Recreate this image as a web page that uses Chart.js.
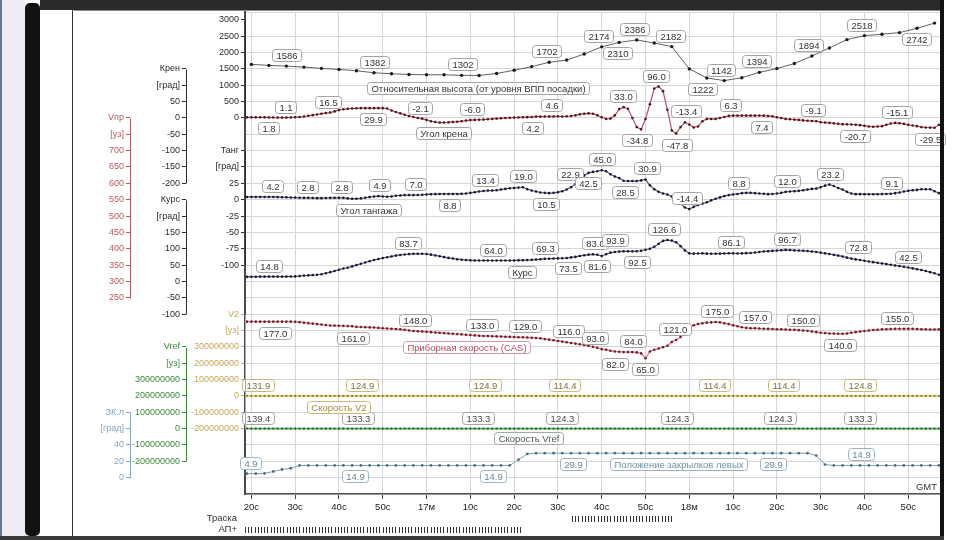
<!DOCTYPE html>
<html lang="ru">
<head>
<meta charset="utf-8">
<title>Параметры полёта</title>
<script src="https://cdn.jsdelivr.net/npm/chart.js@4.4.1/dist/chart.umd.min.js"></script>
<style>
  html, body { margin: 0; padding: 0; background: #fff; }
  body { position: relative; width: 960px; height: 540px; overflow: hidden; }
  #fdr { position: absolute; left: 0; top: 0; }
  .frame { position: absolute; background: #121212; }
</style>
</head>
<body>
<canvas id="fdr" width="960" height="540"></canvas>
<div class="frame" style="left:0;top:0;width:2px;height:540px;background:#6a7890"></div>
<div class="frame" style="left:2px;top:0;width:23px;height:540px;background:#efedf3"></div>
<div class="frame" style="left:25px;top:3px;width:15px;height:533px;border-radius:5px"></div>
<div class="frame" style="left:40px;top:0;width:904px;height:10px;background:#2b2b2b"></div>
<div class="frame" style="left:74px;top:10px;width:866px;height:1px;background:#8a8a8a"></div>
<div class="frame" style="left:72px;top:10px;width:1px;height:530px;background:#333"></div>
<div class="frame" style="left:940px;top:0;width:4px;height:540px"></div>
<div class="frame" style="left:0;top:536px;width:944px;height:4px;background:#3a3a3a"></div>
<script>
// ------------------------- time base (s after 16:20 GMT) -------------------------
const secs = [
  -1, 0, 1, 2, 3, 4, 5, 6, 7, 8, 9, 10, 11, 12, 13, 14, 15, 16, 17, 18,
  19, 20, 21, 22, 23, 24, 25, 26, 27, 28, 29, 30, 31, 32, 33, 34, 35, 36, 37, 38,
  39, 40, 41, 42, 43, 44, 45, 46, 47, 48, 49, 50, 51, 52, 53, 54, 55, 56, 57, 58,
  59, 60, 61, 62, 63, 64, 65, 66, 67, 68, 69, 70, 71, 72, 73, 74, 75, 76, 77, 78,
  79, 80, 81, 82, 83, 84, 85, 86, 87, 88, 89, 90, 91, 92, 93, 94, 95, 96, 97, 98,
  99, 100, 101, 102, 103, 104, 105, 106, 107, 108, 109, 110, 111, 112, 113, 114, 115, 116, 117, 118,
  119, 120, 121, 122, 123, 124, 125, 126, 127, 128, 129, 130, 131, 132, 133, 134, 135, 136, 137, 138,
  139, 140, 141, 142, 143, 144, 145, 146, 147, 148, 149, 150, 151, 152, 153, 154, 155, 156, 157
];
const secs2 = [
  -1, 1, 3, 5, 7, 9, 11, 13, 15, 17, 19, 21, 23, 25, 27, 29, 31, 33, 35, 37,
  39, 41, 43, 45, 47, 49, 51, 53, 55, 57, 59, 61, 63, 65, 67, 69, 71, 73, 75, 77,
  79, 81, 83, 85, 87, 89, 91, 93, 95, 97, 99, 101, 103, 105, 107, 109, 111, 113, 115, 117,
  119, 121, 123, 125, 127, 129, 131, 133, 135, 137, 139, 141, 143, 145, 147, 149, 151, 153, 155, 157
];
const secs4 = [
  0, 4, 8, 12, 16, 20, 24, 28, 32, 36,
  40, 44, 48, 52, 56, 60, 64, 68, 72, 76,
  80, 84, 88, 92, 96, 100, 104, 108, 112, 116,
  120, 124, 128, 132, 136, 140, 144, 148, 152, 156
];

// ------------------------- series -------------------------
const altitude = [
  1638, 1607, 1586, 1555, 1515, 1484, 1443, 1382, 1351, 1329,
  1320, 1320, 1302, 1300, 1360, 1460, 1570, 1702, 1770, 1955,
  2174, 2310, 2386, 2290, 2182, 1500, 1222, 1142, 1230, 1394,
  1510, 1665, 1894, 2140, 2395, 2518, 2560, 2610, 2742, 2900
];
const roll = [
  1.8, 1.8, 1.8, 1.8, 1.8, 1.5, 1.3, 1.1, 1.1, 1.1, 1.5, 2.0, 3.0, 4.5, 6.5, 8.5, 10.5, 13.0, 15.0, 16.5,
  20.0, 24.0, 26.5, 28.0, 29.0, 29.5, 29.9, 30.0, 30.0, 29.9, 30.0, 29.9, 29.0, 23.0, 18.0, 14.0, 10.0, 6.0, 3.0, 0.0,
  -2.1, -6.0, -10.0, -12.5, -14.0, -14.0, -13.5, -12.5, -11.5, -10.0, -8.0, -6.5, -6.0, -5.5, -5.0, -4.0, -3.0, -2.0, -1.0, 0.0,
  0.5, 1.0, 1.5, 2.0, 2.5, 3.0, 4.2, 4.2, 4.4, 4.6, 4.6, 5.0, 4.5, 5.0, 6.0, 8.0, 11.0, 13.0, 14.0, 13.0,
  8.0, 2.0, -3.0, -2.0, 8.0, 27.0, 33.0, 28.0, 0.0, -28.0, -34.8, -3.0, 42.0, 90.0, 96.0, 82.0, 25.0, -38.0, -47.8, -28.0,
  -13.4, -20.0, -29.0, -26.0, -10.0, -3.0, -3.0, -3.0, 0.0, 3.0, 6.3, 7.0, 7.0, 7.0, 7.0, 7.0, 7.0, 7.4, 7.0, 6.0,
  5.0, 2.0, 0.0, -3.0, -4.0, -5.0, -6.0, -7.5, -8.5, -9.1, -10.0, -13.0, -14.0, -15.0, -16.5, -18.0, -19.0, -19.5, -20.0, -20.7,
  -22.0, -24.0, -26.0, -27.0, -26.0, -25.0, -21.0, -17.0, -15.1, -16.0, -18.0, -21.0, -23.0, -25.0, -28.0, -29.0, -29.5, -30.0, -21.0
];
const pitch = [
  4.2, 4.2, 4.2, 4.2, 4.2, 4.2, 4.2, 4.0, 3.8, 3.6, 3.4, 3.2, 3.0, 2.8, 2.8, 2.6, 2.4, 2.4, 2.6, 2.8,
  2.8, 2.8, 2.8, 2.0, 1.5, 1.5, 2.0, 3.0, 4.0, 4.9, 5.5, 5.0, 4.5, 5.0, 6.0, 6.5, 7.0, 7.0, 7.0, 7.2,
  7.5, 8.0, 8.4, 8.6, 8.8, 8.8, 8.8, 8.8, 8.8, 9.0, 9.5, 10.5, 11.5, 12.5, 13.4, 14.0, 14.0, 14.5, 15.5, 16.5,
  17.5, 18.0, 18.5, 19.0, 16.0, 14.0, 12.5, 11.0, 10.5, 10.0, 10.5, 11.5, 13.0, 15.5, 19.0, 24.0, 30.0, 37.0, 41.0, 42.5,
  43.5, 45.0, 43.5, 39.0, 35.5, 33.0, 29.0, 28.5, 28.5, 28.5, 29.5, 30.9, 22.0, 16.0, 12.0, 9.5, 8.0, 5.0, 1.5, -6.0,
  -12.0, -14.4, -11.0, -8.0, -6.0, -4.0, -1.0, 1.5, 3.5, 5.5, 7.0, 8.0, 8.8, 10.0, 10.5, 10.5, 10.0, 9.5, 9.0, 8.5,
  8.8, 9.5, 10.5, 12.0, 12.5, 13.0, 13.5, 14.5, 15.5, 16.5, 17.0, 19.0, 21.5, 23.2, 21.0, 18.0, 15.5, 12.0, 9.5, 8.5,
  8.5, 8.4, 8.4, 8.4, 8.4, 8.6, 8.8, 9.1, 10.0, 11.0, 12.5, 13.5, 14.5, 15.0, 16.0, 16.0, 16.0, 13.0, 10.0
];
const heading = [
  14.0, 14.2, 14.5, 14.8, 14.8, 14.8, 14.8, 14.8, 14.8, 14.8, 15.0, 15.5, 16.5, 18.0, 18.5, 19.5, 20.5, 22.0, 25.0, 28.5,
  32.0, 36.0, 39.5, 42.0, 46.0, 50.0, 54.0, 58.0, 62.0, 65.5, 68.5, 71.5, 74.0, 76.5, 79.0, 81.0, 82.5, 83.7, 84.5, 84.7,
  84.5, 84.0, 82.0, 79.5, 77.0, 74.5, 72.0, 70.0, 68.0, 66.5, 65.5, 64.5, 64.2, 64.0, 64.0, 64.0, 64.0, 64.0, 64.0, 64.0,
  64.0, 64.2, 64.5, 65.0, 65.5, 66.0, 67.0, 68.0, 69.3, 69.5, 70.0, 70.5, 71.0, 71.5, 73.5, 75.0, 78.0, 80.0, 82.0, 83.0,
  81.6, 78.0, 83.0, 88.0, 90.0, 91.5, 92.0, 92.0, 92.0, 92.5, 93.9, 97.0, 100.0, 106.0, 115.0, 124.0, 126.6, 125.0, 120.0, 108.0,
  95.0, 86.0, 85.0, 85.5, 86.0, 85.0, 84.7, 84.7, 85.0, 85.5, 86.1, 86.0, 85.5, 86.0, 86.5, 87.0, 88.5, 90.0, 91.7, 92.5,
  93.5, 94.5, 95.5, 96.7, 96.0, 95.0, 94.5, 94.0, 93.0, 91.5, 90.0, 88.0, 86.0, 84.0, 81.5, 79.0, 76.5, 72.8, 70.0, 67.5,
  65.5, 63.5, 61.0, 59.0, 57.0, 55.0, 53.0, 51.0, 49.0, 47.0, 45.0, 42.5, 40.0, 37.5, 35.0, 32.0, 28.5, 25.0, 20.5
];
const cas = [
  177.0, 177.0, 177.0, 177.0, 177.0, 177.0, 177.0, 177.0, 177.0, 177.0, 177.0, 176.5, 175.5, 174.0, 172.5, 171.0, 169.5, 168.0, 166.5, 165.5,
  165.0, 164.5, 164.0, 163.5, 163.0, 161.0, 160.5, 160.0, 159.5, 159.0, 158.0, 157.0, 156.0, 155.0, 154.5, 153.5, 152.5, 150.0, 148.5, 147.5,
  147.0, 146.0, 145.0, 144.0, 143.0, 142.0, 141.0, 140.0, 139.0, 138.0, 137.0, 136.0, 135.0, 134.0, 133.0, 133.0, 132.5, 132.0, 131.5, 131.0,
  130.5, 130.0, 129.5, 129.0, 128.5, 128.0, 127.0, 126.0, 124.0, 122.0, 120.0, 118.0, 116.0, 114.0, 112.0, 110.0, 108.0, 106.0, 103.0, 100.0,
  97.0, 93.0, 91.0, 88.0, 86.0, 85.0, 84.0, 84.0, 84.0, 83.0, 80.0, 65.0, 86.0, 91.0, 95.0, 99.0, 103.0, 115.0, 121.0, 130.0,
  145.0, 160.0, 166.0, 170.0, 172.0, 174.0, 175.0, 176.0, 175.0, 172.0, 169.5, 166.0, 163.0, 160.0, 158.0, 157.0, 157.0, 156.0, 155.5, 155.0,
  154.5, 154.0, 153.5, 153.0, 152.5, 152.0, 151.0, 150.0, 149.0, 147.0, 145.0, 143.0, 142.0, 141.0, 140.5, 140.0, 140.0, 141.0, 143.0, 145.0,
  147.0, 148.5, 150.0, 151.5, 152.5, 153.5, 154.0, 154.5, 155.0, 155.0, 155.0, 155.0, 155.0, 154.5, 154.0, 153.5, 153.0, 153.0, 153.5
];
const v2 = [
  131.9, 131.9, 131.9, 131.9, 131.9, 131.9, 131.9, 131.9, 131.9, 131.9, 131.9, 131.9, 131.9, 131.9, 131.9, 131.9, 131.9, 131.9, 131.9, 131.9,
  131.9, 124.9, 124.9, 124.9, 124.9, 124.9, 124.9, 124.9, 124.9, 124.9, 124.9, 124.9, 124.9, 124.9, 124.9, 124.9, 124.9, 124.9, 124.9, 124.9,
  124.9, 124.9, 124.9, 124.9, 124.9, 124.9, 124.9, 124.9, 124.9, 124.9, 124.9, 124.9, 124.9, 124.9, 124.9, 124.9, 124.9, 124.9, 124.9, 124.9,
  124.9, 124.9, 124.9, 124.9, 124.9, 124.9, 114.4, 114.4, 114.4, 114.4, 114.4, 114.4, 114.4, 114.4, 114.4, 114.4, 114.4, 114.4, 114.4, 114.4,
  114.4, 114.4, 114.4, 114.4, 114.4, 114.4, 114.4, 114.4, 114.4, 114.4, 114.4, 114.4, 114.4, 114.4, 114.4, 114.4, 114.4, 114.4, 114.4, 114.4,
  114.4, 114.4, 114.4, 114.4, 114.4, 114.4, 114.4, 114.4, 114.4, 114.4, 114.4, 114.4, 114.4, 114.4, 114.4, 114.4, 114.4, 114.4, 114.4, 114.4,
  114.4, 114.4, 114.4, 114.4, 114.4, 114.4, 114.4, 114.4, 114.4, 114.4, 114.4, 114.4, 114.4, 124.8, 124.8, 124.8, 124.8, 124.8, 124.8, 124.8,
  124.8, 124.8, 124.8, 124.8, 124.8, 124.8, 124.8, 124.8, 124.8, 124.8, 124.8, 124.8, 124.8, 124.8, 124.8, 124.8, 124.8, 124.8, 124.8
];
const vref = [
  139.4, 139.4, 139.4, 139.4, 139.4, 139.4, 139.4, 139.4, 139.4, 139.4, 139.4, 139.4, 139.4, 139.4, 139.4, 139.4, 139.4, 139.4, 139.4, 139.4,
  139.4, 133.3, 133.3, 133.3, 133.3, 133.3, 133.3, 133.3, 133.3, 133.3, 133.3, 133.3, 133.3, 133.3, 133.3, 133.3, 133.3, 133.3, 133.3, 133.3,
  133.3, 133.3, 133.3, 133.3, 133.3, 133.3, 133.3, 133.3, 133.3, 133.3, 133.3, 133.3, 133.3, 133.3, 133.3, 133.3, 133.3, 133.3, 133.3, 133.3,
  133.3, 133.3, 133.3, 133.3, 133.3, 133.3, 124.3, 124.3, 124.3, 124.3, 124.3, 124.3, 124.3, 124.3, 124.3, 124.3, 124.3, 124.3, 124.3, 124.3,
  124.3, 124.3, 124.3, 124.3, 124.3, 124.3, 124.3, 124.3, 124.3, 124.3, 124.3, 124.3, 124.3, 124.3, 124.3, 124.3, 124.3, 124.3, 124.3, 124.3,
  124.3, 124.3, 124.3, 124.3, 124.3, 124.3, 124.3, 124.3, 124.3, 124.3, 124.3, 124.3, 124.3, 124.3, 124.3, 124.3, 124.3, 124.3, 124.3, 124.3,
  124.3, 124.3, 124.3, 124.3, 124.3, 124.3, 124.3, 124.3, 124.3, 124.3, 124.3, 124.3, 124.3, 133.3, 133.3, 133.3, 133.3, 133.3, 133.3, 133.3,
  133.3, 133.3, 133.3, 133.3, 133.3, 133.3, 133.3, 133.3, 133.3, 133.3, 133.3, 133.3, 133.3, 133.3, 133.3, 133.3, 133.3, 133.3, 133.3
];
const flaps = [
  4.9, 4.9, 5.2, 7.5, 10.0, 11.5, 14.9, 14.9, 14.9, 14.9, 14.9, 14.9, 14.9, 14.9, 14.9, 14.9, 14.9, 14.9, 14.9, 14.9,
  14.9, 14.9, 14.9, 14.9, 14.9, 14.9, 14.9, 14.9, 14.9, 14.9, 14.9, 22.0, 29.0, 29.9, 29.9, 29.9, 29.9, 29.9, 29.9, 29.9,
  29.9, 29.9, 29.9, 29.9, 29.9, 29.9, 29.9, 29.9, 29.9, 29.9, 29.9, 29.9, 29.9, 29.9, 29.9, 29.9, 29.9, 29.9, 29.9, 29.9,
  29.9, 29.9, 29.9, 29.9, 29.9, 27.0, 16.0, 14.9, 14.9, 14.9, 14.9, 14.9, 14.9, 14.9, 14.9, 14.9, 14.9, 14.9, 14.9, 14.9
];
// discrete events under the time axis: [from, to] in seconds
const apRange = [-1.46, 61.7];
const traskaRange = [73.2, 96.3];

// ------------------------- axes -------------------------
const tickSecs = [0, 10, 20, 30, 40, 50, 60, 70, 80, 90, 100, 110, 120, 130, 140, 150];
const timeLabels = ['20с', '30с', '40с', '50с', '17м', '10с', '20с', '30с', '40с', '50с', '18м', '10с', '20с', '30с', '40с', '50с'];

const altTicks = [3000, 2500, 2000, 1500, 1000, 500, 0];
const altTickLabels = ['3000', '2500', '2000', '1500', '1000', '500', '0'];
const rollTicks = [150, 100, 50, 0, -50, -100, -150, -200];
const rollTickLabels = ['Крен', '[град]', '50', '0', '-50', '-100', '-150', '-200'];
const pitchTicks = [75, 50, 25, 0, -25, -50, -75, -100];
const pitchTickLabels = ['Танг', '[град]', '25', '0', '-25', '-50', '-75', '-100'];
const headTicks = [250, 200, 150, 100, 50, 0, -50, -100];
const headTickLabels = ['Курс', '[град]', '150', '100', '50', '0', '-50', '-100'];
const casTicks = [800, 750, 700, 650, 600, 550, 500, 450, 400, 350, 300, 250];
const casTickLabels = ['Vпр', '[уз]', '700', '650', '600', '550', '500', '450', '400', '350', '300', '250'];
const speedTicks = [5e8, 4e8, 3e8, 2e8, 1e8, 0, -1e8, -2e8];
const v2TickLabels = ['V2', '[уз]', '300000000', '200000000', '100000000', '0', '-100000000', '-200000000'];
const vrefTickLabels = ['Vref', '[уз]', '300000000', '200000000', '100000000', '0', '-100000000', '-200000000'];
const flapTicks = [80, 60, 40, 20, 0];
const flapTickLabels = ['ЗК.л', '[град]', '40', '20', '0'];

// boxed readouts: [second, value, side]  (side -1 above the trace, 1 below)
const altMarks = [[8.1, 1586, -1], [28.2, 1382, -1], [48.1, 1302, -1], [67.3, 1702, -1], [79.2, 2174, -1], [83.7, 2310, 1],
  [87.4, 2386, -1], [95.6, 2182, -1], [103, 1222, 1], [107.2, 1142, -1], [115.4, 1394, -1], [127.2, 1894, -1],
  [139.4, 2518, -1], [151.8, 2742, 1]];
const rollMarks = [[3.8, 1.8, 1], [7.7, 1.1, -1], [17.6, 16.5, -1], [27.7, 29.9, 1], [38.5, -2.1, -1], [50.4, -6.0, -1],
  [64.3, 4.2, 1], [68.6, 4.6, -1], [84.9, 33.0, -1], [88.1, -34.8, 1], [92.3, 96.0, -1], [97.3, -47.8, 1], [99.2, -13.4, -1],
  [109.3, 6.3, -1], [116.5, 7.4, 1], [128.2, -9.1, -1], [137.8, -20.7, 1], [147.4, -15.1, -1], [155, -29.5, 1]];
const pitchMarks = [[4.9, 4.2, -1], [12.9, 2.8, -1], [20.6, 2.8, -1], [29.2, 4.9, -1], [37.4, 7.0, -1], [45.2, 8.8, 1],
  [53.3, 13.4, -1], [62.1, 19.0, -1], [67.3, 10.5, 1], [72.8, 22.9, -1], [76.9, 42.5, 1], [80, 45.0, -1], [85.3, 28.5, 1],
  [90.3, 30.9, -1], [99.4, -14.4, -1], [111.2, 8.8, -1], [122.2, 12.0, -1], [132.1, 23.2, -1], [146.2, 9.1, -1]];
const headMarks = [[4.1, 14.8, -1], [35.8, 83.7, -1], [55.2, 64.0, -1], [67, 69.3, -1], [72.4, 73.5, 1], [78.5, 83.0, -1],
  [78.9, 81.6, 1], [83, 93.9, -1], [88, 92.5, 1], [94.2, 126.6, -1], [109.5, 86.1, -1], [122.2, 96.7, -1],
  [138.6, 72.8, -1], [150, 42.5, -1]];
const casMarks = [[5.4, 177.0, 1], [23.3, 161.0, 1], [37.4, 148.0, -1], [52.6, 133.0, -1], [62.5, 129.0, -1], [72.4, 116.0, -1],
  [78.5, 93.0, -1], [83, 82.0, 1], [87.2, 84.0, -1], [89.9, 65.0, 1], [96.7, 121.0, -1], [106.3, 175.0, -1], [115, 157.0, -1],
  [126, 150.0, -1], [134.3, 140.0, 1], [147.5, 155.0, -1]];
const v2Marks = [[1.4, 131.9, -1], [25.2, 124.9, -1], [53.3, 124.9, -1], [71.6, 114.4, -1], [105.8, 114.4, -1], [121.5, 114.4, -1], [139, 124.8, -1]];
const vrefMarks = [[1.4, 139.4, -1], [24.4, 133.3, -1], [51.8, 133.3, -1], [70.9, 124.3, -1], [97.1, 124.3, -1], [120.7, 124.3, -1], [139, 133.3, -1]];
const flapMarks = [[-0.1, 4.9, -1], [23.7, 14.9, 1], [55.2, 14.9, 1], [73.5, 29.9, 1], [119.2, 29.9, 1], [139.1, 14.9, -1]];

// trace names: [axis, second, value, text]
const nameTags = [
  ['yAlt', 51.7, 930, 'Относительная высота (от уровня ВПП посадки)'],
  ['yRoll', 43.8, -44.5, 'Угол крена'],
  ['yPitch', 26.7, -15, 'Угол тангажа'],
  ['yHead', 61.8, 30, 'Курс'],
  ['yCas', 49.1, 101, 'Приборная скорость (CAS)'],
  ['yV2', 20, -65000000, 'Скорость V2'],
  ['yVref', 63.2, -60000000, 'Скорость Vref'],
  ['yFlap', 97.5, 16.7, 'Положение закрылков левых']
];

// ------------------------- layout -------------------------
const FONT = '"Liberation Sans", Arial, sans-serif';
const ROW_PX = 16.35;              // grid pitch shared by every band
const PLOT_H = 482;                // chart area height (12 … 494)
const ROWS = PLOT_H / ROW_PX;
const tStart = -1.46, tEnd = 157.25;

// [id, weight, width, value, at grid row, units per row, tick values, tick labels, colour]
const sideAxes = [
  ['yCas', 30, 130, 250, 12, 50, casTicks, casTickLabels, '#b65a5a'],
  ['yFlap', 29, 0, 0, 1, 20, flapTicks, flapTickLabels, '#86a6be'],
  ['yRoll', 20, 56, 0, 23, 50, rollTicks, rollTickLabels, '#2a2a2a'],
  ['yHead', 19, 0, 0, 13, 50, headTicks, headTickLabels, '#2a2a2a'],
  ['yVref', 18, 0, 0, 4, 1e8, speedTicks, vrefTickLabels, '#3d8a3d'],
  ['yAlt', 10, 59, 0, 23, 500, altTicks, altTickLabels, '#2a2a2a'],
  ['yPitch', 9, 0, 0, 18, 25, pitchTicks, pitchTickLabels, '#2a2a2a'],
  ['yV2', 8, 0, 0, 6, 1e8, speedTicks, v2TickLabels, '#c8a85a']
];

// [name, axis, times, values, line, dots, dot radius, line width]
const traces = [
  ['Относительная высота', 'yAlt', secs4, altitude, '#606060', '#1a1a1a', 1.7, 1],
  ['Угол крена', 'yRoll', secs, roll, '#b8505e', '#4e1620', 1.3, 1.2],
  ['Угол тангажа', 'yPitch', secs, pitch, '#55557e', '#18182e', 1.3, 1.2],
  ['Курс', 'yHead', secs, heading, '#55557e', '#18182e', 1.3, 1.2],
  ['Приборная скорость (CAS)', 'yCas', secs, cas, '#e27c88', '#6a2232', 1.3, 1.4],
  ['Скорость V2', 'yV2', secs, v2, '#e6cf5a', '#8a7a2e', 1.1, 1.6],
  ['Скорость Vref', 'yVref', secs, vref, '#58b058', '#1f5e1f', 1.1, 1.6],
  ['Положение закрылков левых', 'yFlap', secs2, flaps, '#7e9fb0', '#4d6d80', 1.4, 1]
];

// [axis, marks, decimals, ink, edge]
const tagGroups = [
  ['yAlt', altMarks, 0, '#333', '#a3a3a3'],
  ['yRoll', rollMarks, 1, '#333', '#a3a3a3'],
  ['yPitch', pitchMarks, 1, '#333', '#a3a3a3'],
  ['yHead', headMarks, 1, '#333', '#a3a3a3'],
  ['yCas', casMarks, 1, '#333', '#a3a3a3'],
  ['yV2', v2Marks, 1, '#7d7040', '#c9b984'],
  ['yVref', vrefMarks, 1, '#3f4a3f', '#a0a8a0'],
  ['yFlap', flapMarks, 1, '#67879a', '#9db3c2']
];
const nameInk = {
  yAlt: ['#333', '#a3a3a3'], yRoll: ['#333', '#a3a3a3'], yPitch: ['#333', '#a3a3a3'], yHead: ['#333', '#a3a3a3'],
  yCas: ['#b04a55', '#cf9aa0'], yV2: ['#a08a3a', '#cdb878'], yVref: ['#4b574b', '#a0a8a0'], yFlap: ['#6f90a2', '#9db3c2']
};

function band(v0, r0, perRow) {
  return { min: v0 - r0 * perRow, max: v0 + (ROWS - r0) * perRow };
}

const scales = {
  x: {
    type: 'linear', position: 'bottom', min: tStart, max: tEnd, bounds: 'data',
    afterBuildTicks: s => { s.ticks = tickSecs.map(value => ({ value })); },
    afterFit: s => { s.height = 46; },
    ticks: { autoSkip: false, maxRotation: 0, padding: 3, color: '#222', font: { family: FONT, size: 9.5 },
      callback: (v, i) => timeLabels[i] },
    grid: { color: '#d6d6d6', tickColor: '#444', tickLength: 5 },
    border: { color: '#555', width: 1.5 }
  },
  yGrid: {
    type: 'linear', position: 'left', weight: 0, min: 0, max: ROWS, bounds: 'data',
    afterFit: s => { s.width = 0; },
    ticks: { display: false, stepSize: 1 },
    grid: { color: '#d6d6d6', drawTicks: false },
    border: { color: '#4a4a4a', width: 2 }
  }
};

sideAxes.forEach(([id, weight, width, v0, r0, per, tv, tl, color]) => {
  const b = band(v0, r0, per);
  scales[id] = {
    type: 'linear', position: 'left', weight, min: b.min, max: b.max, bounds: 'data',
    afterBuildTicks: s => { s.ticks = tv.map(value => ({ value })); },
    afterFit: s => {
      s.width = width;
      // axes share columns, so their labels must not be clipped to their own (narrow) box
      s._computeLabelArea = () => undefined;
    },
    ticks: { autoSkip: false, padding: 2, color, font: { family: FONT, size: 9 }, callback: (v, i) => tl[i] },
    grid: { drawOnChartArea: false, tickLength: 4, color },
    border: { display: false }
  };
});

function drawTag(ctx, cx, cy, text, ink, edge) {
  const w = Math.round(ctx.measureText(text).width) + 8, h = 12;
  const x = Math.round(cx - w / 2) + 0.5, y = Math.round(cy - h / 2) + 0.5;
  ctx.beginPath();
  ctx.roundRect(x, y, w, h, 3);
  ctx.fillStyle = '#fff';
  ctx.fill();
  ctx.strokeStyle = edge;
  ctx.stroke();
  ctx.fillStyle = ink;
  ctx.fillText(text, x + w / 2, y + h / 2 + 0.5);
}

const overlay = {
  id: 'overlay',
  afterDatasetsDraw(chart) {
    const { ctx, scales: sc } = chart;
    ctx.save();
    ctx.font = `9.5px ${FONT}`;
    ctx.textAlign = 'center';
    ctx.textBaseline = 'middle';
    ctx.lineWidth = 1;
    tagGroups.forEach(([axis, marks, digits, ink, edge]) => {
      marks.forEach(([t, v, side]) => {
        drawTag(ctx, sc.x.getPixelForValue(t), sc[axis].getPixelForValue(v) + side * 11, v.toFixed(digits), ink, edge);
      });
    });
    nameTags.forEach(([axis, t, v, text]) => {
      const [ink, edge] = nameInk[axis];
      drawTag(ctx, sc.x.getPixelForValue(t), sc[axis].getPixelForValue(v), text, ink, edge);
    });
    ctx.restore();
  },
  afterDraw(chart) {
    const { ctx, scales: sc, chartArea } = chart;
    ctx.save();
    ctx.lineWidth = 1;
    // axis spines only over the labelled span
    sideAxes.forEach(([id, , , , , , tv, , color]) => {
      const s = sc[id];
      const x = Math.round(s.right) + 0.5;
      ctx.strokeStyle = color;
      ctx.beginPath();
      ctx.moveTo(x, Math.round(s.getPixelForValue(tv[0])) + 0.5);
      ctx.lineTo(x, Math.round(s.getPixelForValue(tv[tv.length - 1])) + 0.5);
      ctx.stroke();
    });
    ctx.font = `9.5px ${FONT}`;
    ctx.fillStyle = '#333';
    ctx.textBaseline = 'middle';
    ctx.textAlign = 'right';
    ctx.fillText('GMT', chartArea.right - 3, chartArea.bottom - 7);
    ctx.fillText('Траска', chartArea.left - 8, 518);
    ctx.fillText('АП+', chartArea.left - 8, 529);
    // event strips
    ctx.strokeStyle = '#333';
    [[traskaRange, 519], [apRange, 530]].forEach(([r, y]) => {
      const x0 = sc.x.getPixelForValue(r[0]), x1 = sc.x.getPixelForValue(r[1]);
      ctx.beginPath();
      for (let x = x0; x <= x1; x += 3.2) {
        ctx.moveTo(Math.round(x) + 0.5, y - 3);
        ctx.lineTo(Math.round(x) + 0.5, y + 3);
      }
      ctx.stroke();
    });
    ctx.restore();
  }
};

new Chart(document.getElementById('fdr'), {
  type: 'line',
  data: {
    datasets: traces.map(([label, axis, xs, ys, line, dot, r, w]) => ({
      label,
      data: ys.map((y, i) => ({ x: xs[i], y })),
      xAxisID: 'x',
      yAxisID: axis,
      borderColor: line,
      borderWidth: w,
      pointRadius: r,
      pointBackgroundColor: dot,
      pointBorderWidth: 0,
      tension: 0
    }))
  },
  options: {
    responsive: false,
    animation: false,
    devicePixelRatio: 1,
    events: [],
    layout: { padding: { top: 12, right: 20, bottom: 0, left: 0 } },
    plugins: { legend: { display: false }, tooltip: { enabled: false } },
    scales
  },
  plugins: [overlay]
});
</script>
</body>
</html>
